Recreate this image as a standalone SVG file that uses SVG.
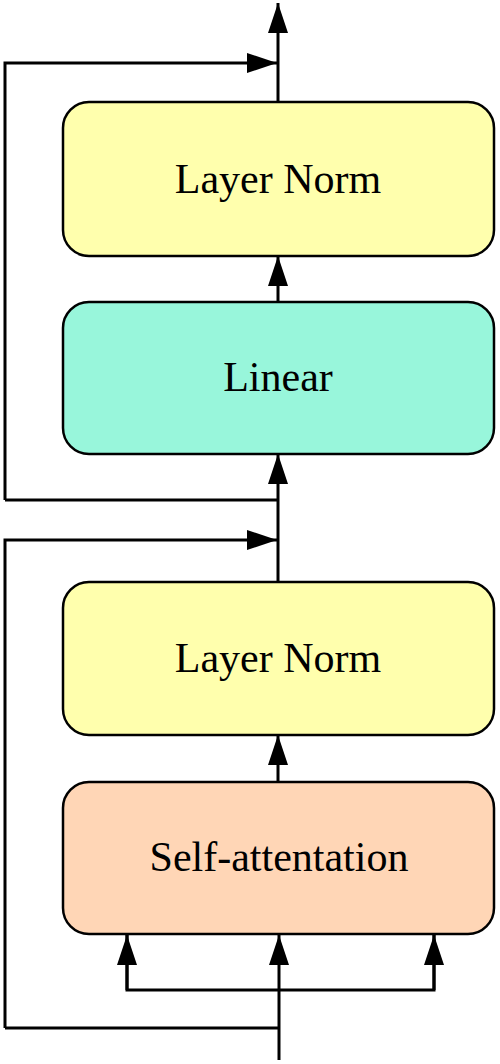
<svg xmlns="http://www.w3.org/2000/svg" width="500" height="1064" viewBox="0 0 500 1064">
<style>
.box{stroke:#000;stroke-width:2.5}
.lbl{font-family:"Liberation Serif","Times New Roman",serif;font-size:42px;text-anchor:middle;fill:#000}
.ln{fill:none;stroke:#000;stroke-width:3}
</style>
<defs>
<marker id="ah" viewBox="0 0 30 20" refX="30" refY="10" markerWidth="30" markerHeight="20" markerUnits="userSpaceOnUse" orient="auto">
<path d="M0,0 L30,10 L0,20 Z" fill="#000"/>
</marker>
</defs>
<rect width="500" height="1064" fill="#fff"/>
<g id="connectors">
<line class="ln" x1="278" y1="102" x2="278" y2="3" marker-end="url(#ah)"/>
<polyline class="ln" points="5,500 5,63 277,63" marker-end="url(#ah)"/>
<line class="ln" x1="278" y1="302" x2="278" y2="256" marker-end="url(#ah)"/>
<line class="ln" x1="278" y1="582" x2="278" y2="454" marker-end="url(#ah)"/>
<line class="ln" x1="5" y1="500" x2="279" y2="500"/>
<polyline class="ln" points="5,1028 5,540 277,540" marker-end="url(#ah)"/>
<line class="ln" x1="278" y1="782" x2="278" y2="735" marker-end="url(#ah)"/>
<line class="ln" x1="279" y1="1060" x2="279" y2="935" marker-end="url(#ah)"/>
<line class="ln" x1="5" y1="1028" x2="279" y2="1028"/>
<polyline class="ln" points="127,935 127,990 434,990 434,935"/>
<line class="ln" x1="127" y1="990" x2="127" y2="935" marker-end="url(#ah)"/>
<line class="ln" x1="434" y1="990" x2="434" y2="935" marker-end="url(#ah)"/>
</g>
<g id="layernorm2">
<rect class="box" x="63" y="102" width="431" height="154" rx="26" fill="#FFFFAD"/>
<text class="lbl" x="278" y="193">Layer Norm</text>
</g>
<g id="linear">
<rect class="box" x="63" y="302" width="431" height="152" rx="26" fill="#98F6DB"/>
<text class="lbl" x="278" y="391">Linear</text>
</g>
<g id="layernorm1">
<rect class="box" x="63" y="582" width="431" height="153" rx="26" fill="#FFFFAD"/>
<text class="lbl" x="278" y="672">Layer Norm</text>
</g>
<g id="selfattention">
<rect class="box" x="63" y="782" width="431" height="152" rx="26" fill="#FFD6B6"/>
<text class="lbl" x="279" y="871">Self-attentation</text>
</g>
</svg>
